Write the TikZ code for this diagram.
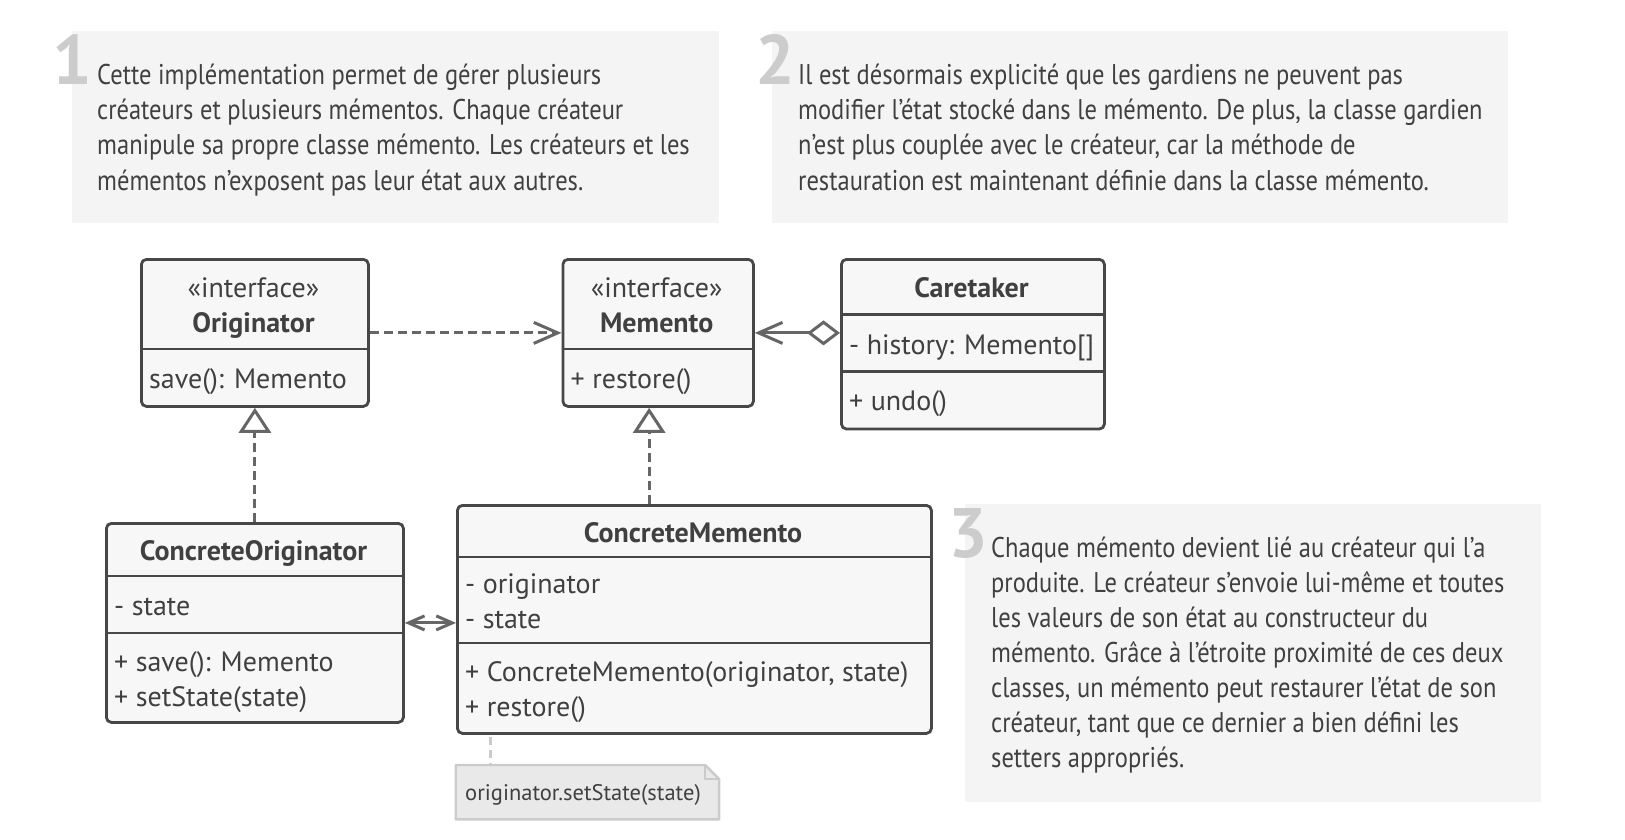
\documentclass[tikz,border=0pt]{standalone}
\usepackage{fontspec}
\setmainfont{PT Sans}
\newfontfamily\narrowfont[FakeStretch=0.86]{PT Sans}
\usetikzlibrary{arrows.meta}
\definecolor{panelbg}{HTML}{F4F4F4}
\definecolor{digitc}{HTML}{CCCCCC}
\definecolor{textc}{HTML}{404040}
\definecolor{boxbg}{HTML}{F7F7F7}
\definecolor{boxc}{HTML}{474747}
\definecolor{linec}{HTML}{666666}
\definecolor{notebg}{HTML}{E9E9E9}
\definecolor{notec}{HTML}{CBCBCB}
\begin{document}
\begin{tikzpicture}[x=1pt,y=-1pt,
  panel/.style={fill=panelbg, draw=none, inner sep=0, anchor=north west},
  digit/.style={text=digitc, font=\fontsize{70}{70}\selectfont\bfseries, inner sep=0, anchor=base east},
  ptxt/.style={text=textc, font=\narrowfont\fontsize{28.5}{35}\selectfont, inner sep=0, anchor=base west},
  cls/.style={draw=boxc, fill=boxbg, line width=2.8pt, rounded corners=5pt, inner sep=0, anchor=north west},
  divider/.style={draw=boxc, line width=2.8pt},
  ctxt/.style={text=textc, font=\fontsize{28}{32}\selectfont, inner sep=0, anchor=base west, yshift=-2.5pt},
  cster/.style={ctxt, anchor=base},
  ctitle/.style={text=textc, font=\fontsize{28}{32}\selectfont\bfseries, inner sep=0, anchor=base, yshift=-2.5pt},
  conn/.style={draw=linec, line width=3pt},
  dep/.style={conn, dash pattern=on 9pt off 5pt, -{Straight Barb[length=24pt,width=21pt]}},
  agg/.style={conn, {Diamond[open,length=33pt,width=25pt]}-{Straight Barb[length=24pt,width=21pt]}},
  realz/.style={conn, dash pattern=on 9pt off 5pt, -{Triangle[open,length=25pt,width=32pt]}},
  assoc/.style={conn, {Straight Barb[length=16pt,width=14pt]}-{Straight Barb[length=16pt,width=14pt]}},
  notest/.style={fill=notebg, draw=notec, line width=2.4pt, line join=round},
  noteline/.style={draw=notec, line width=3pt, dash pattern=on 8pt off 5pt},
  ntxt/.style={text=textc, font=\fontsize{22.5}{26}\selectfont, inner sep=0, anchor=base west}
]
\useasboundingbox (0,0) rectangle (1625,840);

% ---------- panels ----------
\node[panel, minimum width=647pt, minimum height=192pt] (pan1) at (71.7,31) {};
\node[panel, minimum width=736pt, minimum height=192pt] (pan2) at (772,31) {};
\node[panel, minimum width=576pt, minimum height=298pt] (pan3) at (965,504) {};

\node[digit] (d1) at (92,85) {1};
\node[digit] (d2) at (795,85) {2};
\node[digit] (d3) at (988,557) {3};

\node[ptxt] (p1a) at (97,85)  {Cette implémentation permet de gérer plusieurs};
\node[ptxt] (p1b) at (97,120) {créateurs et plusieurs mémentos. Chaque créateur};
\node[ptxt] (p1c) at (97,155) {manipule sa propre classe mémento. Les créateurs et les};
\node[ptxt] (p1d) at (97,190) {mémentos n’exposent pas leur état aux autres.};

\node[ptxt] (p2a) at (798,85)  {Il est désormais explicité que les gardiens ne peuvent pas};
\node[ptxt] (p2b) at (798,120) {modifier l’état stocké dans le mémento. De plus, la classe gardien};
\node[ptxt] (p2c) at (798,155) {n’est plus couplée avec le créateur, car la méthode de};
\node[ptxt] (p2d) at (798,190) {restauration est maintenant définie dans la classe mémento.};

\node[ptxt] (p3a) at (991,557) {Chaque mémento devient lié au créateur qui l’a};
\node[ptxt] (p3b) at (991,592) {produite. Le créateur s’envoie lui-même et toutes};
\node[ptxt] (p3c) at (991,627) {les valeurs de son état au constructeur du};
\node[ptxt] (p3d) at (991,662) {mémento. Grâce à l’étroite proximité de ces deux};
\node[ptxt] (p3e) at (991,697) {classes, un mémento peut restaurer l’état de son};
\node[ptxt] (p3f) at (991,732) {créateur, tant que ce dernier a bien défini les};
\node[ptxt] (p3g) at (991,767) {setters appropriés.};

% ---------- class boxes ----------
\node[cls, minimum width=227pt, minimum height=147pt] (orig) at (140,258) {};
\draw[divider] (140,349) -- (367,349);
\node[cster]  (origs) at (253.5,294.5) {«interface»};
\node[ctitle] (origt) at (253.5,329.5) {Originator};
\node[ctxt]   (origm) at (149,385.5)   {save(): Memento};

\node[cls, minimum width=190.5pt, minimum height=147pt] (mem) at (561.5,258) {};
\draw[divider] (561.5,349) -- (752,349);
\node[cster]  (mems) at (656.75,294.5) {«interface»};
\node[ctitle] (memt) at (656.75,329.5) {Memento};
\node[ctxt]   (memm) at (570.5,385.5)  {+ restore()};

\node[cls, minimum width=263pt, minimum height=169.6pt] (care) at (840,258) {};
\draw[divider] (840,314.5) -- (1103,314.5);
\draw[divider] (840,371.6) -- (1103,371.6);
\node[ctitle] (caret) at (971.5,294.75) {Caretaker};
\node[ctxt]   (carea) at (849,351.5)    {- history: Memento[]};
\node[ctxt]   (carem) at (849,408)      {+ undo()};

\node[cls, minimum width=297pt, minimum height=199pt] (corig) at (105,522) {};
\draw[divider] (105,576) -- (402,576);
\draw[divider] (105,633) -- (402,633);
\node[ctitle] (corigt) at (253.5,557.5) {ConcreteOriginator};
\node[ctxt]   (coriga) at (114,613)     {- state};
\node[ctxt]   (corigm) at (114,668.5)   {+ save(): Memento};
\node[ctxt]   (corign) at (114,703.5)   {+ setState(state)};

\node[cls, minimum width=474pt, minimum height=228pt] (cmem) at (456,504) {};
\draw[divider] (456,557) -- (930,557);
\draw[divider] (456,643) -- (930,643);
\node[ctitle] (cmemt) at (693,539.5) {ConcreteMemento};
\node[ctxt]   (cmema) at (465,591)   {- originator};
\node[ctxt]   (cmemb) at (465,626)   {- state};
\node[ctxt]   (cmemc) at (465,678.5) {+ ConcreteMemento(originator, state)};
\node[ctxt]   (cmemd) at (465,713.5) {+ restore()};

% ---------- note ----------
\node[inner sep=0, minimum width=263pt, minimum height=54pt, anchor=north west] (note) at (455.7,765) {};
\filldraw[notest] (note.north west) -- ([xshift=-14pt]note.north east) -- ([yshift=-14pt]note.north east) -- (note.south east) -- (note.south west) -- cycle;
\draw[notest, fill=none] ([xshift=-14pt]note.north east) -- ([xshift=-14pt,yshift=-14pt]note.north east) -- ([yshift=-14pt]note.north east);
\node[ntxt] (notet) at (465,800) {originator.setState(state)};
\coordinate (nl) at ([xshift=34pt]cmem.south west);
\draw[noteline] ([yshift=-2pt]nl) -- (nl |- note.north);

% ---------- connectors ----------
\draw[dep] (orig.east) -- (mem.west);
\draw[agg] (care.west |- mem.west) -- (mem.east);
\draw[realz] (corig.north) -- (orig.south);
\coordinate (rm) at ([xshift=-9pt]mem.south);
\draw[realz] (rm |- cmem.north) -- (rm);
\draw[assoc] (corig.east) -- (cmem.west |- corig.east);
\end{tikzpicture}
\end{document}
